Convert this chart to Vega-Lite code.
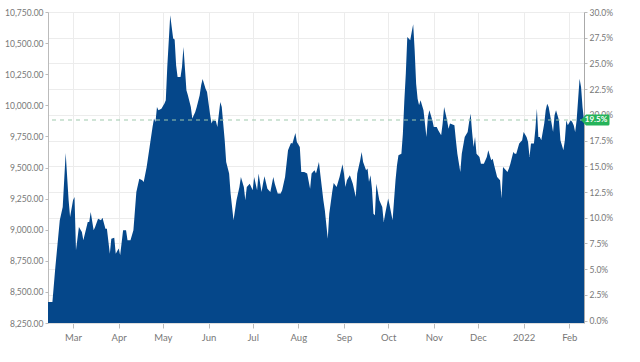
{
  "$schema": "https://vega.github.io/schema/vega-lite/v6.json",
  "width": 536,
  "height": 311,
  "autosize": {"type": "none"},
  "padding": {"left": 48, "top": 12, "right": 56, "bottom": 39},
  "background": "white",
  "config": {
    "view": {"stroke": null},
    "font": "Lato",
    "axis": {"labelFont": "Lato", "labelColor": "#777", "title": null, "gridColor": "#ececec", "gridWidth": 1}
  },
  "layer": [
    {
      "data": {"values": [
        {"d":"2021-02-12","v":8419},{"d":"2021-02-15","v":8419},{"d":"2021-02-17","v":8700},{"d":"2021-02-20","v":9075},
        {"d":"2021-02-22","v":9183},{"d":"2021-02-24","v":9617},{"d":"2021-02-26","v":9236},{"d":"2021-02-27","v":9102},
        {"d":"2021-03-01","v":9236},{"d":"2021-03-02","v":9263},{"d":"2021-03-03","v":8834},{"d":"2021-03-05","v":9022},
        {"d":"2021-03-07","v":8982},{"d":"2021-03-08","v":8915},{"d":"2021-03-11","v":9062},{"d":"2021-03-12","v":9062},
        {"d":"2021-03-13","v":9142},{"d":"2021-03-15","v":8995},{"d":"2021-03-16","v":9022},{"d":"2021-03-18","v":9089},
        {"d":"2021-03-20","v":9075},{"d":"2021-03-21","v":9097},{"d":"2021-03-23","v":9008},{"d":"2021-03-24","v":9008},
        {"d":"2021-03-26","v":8807},{"d":"2021-03-27","v":8928},{"d":"2021-03-29","v":8936},{"d":"2021-03-30","v":8807},
        {"d":"2021-04-01","v":8848},{"d":"2021-04-02","v":8794},{"d":"2021-04-04","v":8995},{"d":"2021-04-06","v":8995},
        {"d":"2021-04-07","v":8915},{"d":"2021-04-09","v":8915},{"d":"2021-04-11","v":8995},{"d":"2021-04-13","v":9303},
        {"d":"2021-04-15","v":9410},{"d":"2021-04-17","v":9397},{"d":"2021-04-18","v":9384},{"d":"2021-04-20","v":9504},
        {"d":"2021-04-22","v":9665},{"d":"2021-04-24","v":9826},{"d":"2021-04-25","v":9893},{"d":"2021-04-26","v":9866},
        {"d":"2021-04-27","v":9987},{"d":"2021-04-28","v":9960},{"d":"2021-04-30","v":9973},{"d":"2021-05-02","v":10013},
        {"d":"2021-05-03","v":10040},{"d":"2021-05-04","v":10308},{"d":"2021-05-06","v":10723},{"d":"2021-05-07","v":10630},
        {"d":"2021-05-08","v":10536},{"d":"2021-05-09","v":10528},{"d":"2021-05-10","v":10322},{"d":"2021-05-11","v":10228},
        {"d":"2021-05-13","v":10228},{"d":"2021-05-14","v":10308},{"d":"2021-05-15","v":10469},{"d":"2021-05-16","v":10295},
        {"d":"2021-05-17","v":10121},{"d":"2021-05-18","v":10080},{"d":"2021-05-20","v":9987},{"d":"2021-05-21","v":9893},
        {"d":"2021-05-23","v":9946},{"d":"2021-05-24","v":9987},{"d":"2021-05-26","v":10080},{"d":"2021-05-27","v":10161},
        {"d":"2021-05-28","v":10212},{"d":"2021-05-30","v":10134},{"d":"2021-05-31","v":10107},{"d":"2021-06-02","v":9933},
        {"d":"2021-06-03","v":9853},{"d":"2021-06-04","v":9879},{"d":"2021-06-06","v":9874},{"d":"2021-06-07","v":9826},
        {"d":"2021-06-09","v":10027},{"d":"2021-06-10","v":9987},{"d":"2021-06-12","v":9719},{"d":"2021-06-13","v":9544},
        {"d":"2021-06-15","v":9451},{"d":"2021-06-16","v":9290},{"d":"2021-06-18","v":9075},{"d":"2021-06-20","v":9236},
        {"d":"2021-06-22","v":9343},{"d":"2021-06-23","v":9424},{"d":"2021-06-25","v":9343},{"d":"2021-06-26","v":9236},
        {"d":"2021-06-27","v":9343},{"d":"2021-06-29","v":9370},{"d":"2021-07-01","v":9317},{"d":"2021-07-02","v":9424},
        {"d":"2021-07-04","v":9317},{"d":"2021-07-05","v":9451},{"d":"2021-07-07","v":9303},{"d":"2021-07-08","v":9370},
        {"d":"2021-07-09","v":9429},{"d":"2021-07-11","v":9330},{"d":"2021-07-13","v":9303},{"d":"2021-07-15","v":9424},
        {"d":"2021-07-16","v":9370},{"d":"2021-07-18","v":9290},{"d":"2021-07-20","v":9290},{"d":"2021-07-21","v":9317},
        {"d":"2021-07-23","v":9424},{"d":"2021-07-25","v":9638},{"d":"2021-07-27","v":9697},{"d":"2021-07-28","v":9692},
        {"d":"2021-07-30","v":9778},{"d":"2021-07-31","v":9705},{"d":"2021-08-02","v":9665},{"d":"2021-08-03","v":9464},
        {"d":"2021-08-05","v":9464},{"d":"2021-08-07","v":9451},{"d":"2021-08-09","v":9330},{"d":"2021-08-10","v":9451},
        {"d":"2021-08-12","v":9477},{"d":"2021-08-13","v":9451},{"d":"2021-08-15","v":9544},{"d":"2021-08-16","v":9437},
        {"d":"2021-08-18","v":9236},{"d":"2021-08-19","v":9156},{"d":"2021-08-21","v":8928},{"d":"2021-08-22","v":9129},
        {"d":"2021-08-24","v":9303},{"d":"2021-08-25","v":9376},{"d":"2021-08-27","v":9343},{"d":"2021-08-29","v":9424},
        {"d":"2021-08-31","v":9526},{"d":"2021-09-01","v":9451},{"d":"2021-09-02","v":9343},{"d":"2021-09-03","v":9397},
        {"d":"2021-09-05","v":9437},{"d":"2021-09-07","v":9370},{"d":"2021-09-09","v":9263},{"d":"2021-09-10","v":9451},
        {"d":"2021-09-12","v":9558},{"d":"2021-09-13","v":9625},{"d":"2021-09-14","v":9544},{"d":"2021-09-16","v":9477},
        {"d":"2021-09-17","v":9491},{"d":"2021-09-18","v":9384},{"d":"2021-09-19","v":9437},{"d":"2021-09-20","v":9330},
        {"d":"2021-09-21","v":9129},{"d":"2021-09-22","v":9116},{"d":"2021-09-23","v":9370},{"d":"2021-09-25","v":9236},
        {"d":"2021-09-27","v":9183},{"d":"2021-09-28","v":9062},{"d":"2021-09-29","v":9129},{"d":"2021-10-01","v":9250},
        {"d":"2021-10-02","v":9196},{"d":"2021-10-04","v":9075},{"d":"2021-10-05","v":9236},{"d":"2021-10-06","v":9397},
        {"d":"2021-10-07","v":9518},{"d":"2021-10-08","v":9598},{"d":"2021-10-10","v":9611},{"d":"2021-10-11","v":9772},
        {"d":"2021-10-12","v":10040},{"d":"2021-10-13","v":10255},{"d":"2021-10-14","v":10549},{"d":"2021-10-16","v":10522},
        {"d":"2021-10-17","v":10589},{"d":"2021-10-18","v":10651},{"d":"2021-10-19","v":10442},{"d":"2021-10-20","v":10174},
        {"d":"2021-10-21","v":10053},{"d":"2021-10-22","v":10000},{"d":"2021-10-23","v":10040},{"d":"2021-10-24","v":10000},
        {"d":"2021-10-25","v":9960},{"d":"2021-10-27","v":9745},{"d":"2021-10-28","v":9906},{"d":"2021-10-29","v":9960},
        {"d":"2021-10-31","v":9879},{"d":"2021-11-01","v":9826},{"d":"2021-11-03","v":9826},{"d":"2021-11-04","v":9799},
        {"d":"2021-11-06","v":9759},{"d":"2021-11-07","v":9853},{"d":"2021-11-08","v":9987},{"d":"2021-11-10","v":9879},
        {"d":"2021-11-11","v":9812},{"d":"2021-11-12","v":9853},{"d":"2021-11-15","v":9839},{"d":"2021-11-16","v":9719},
        {"d":"2021-11-17","v":9611},{"d":"2021-11-19","v":9464},{"d":"2021-11-20","v":9611},{"d":"2021-11-22","v":9745},
        {"d":"2021-11-24","v":9786},{"d":"2021-11-25","v":9866},{"d":"2021-11-26","v":9933},{"d":"2021-11-27","v":9786},
        {"d":"2021-11-28","v":9665},{"d":"2021-11-29","v":9745},{"d":"2021-11-30","v":9611},{"d":"2021-12-02","v":9585},
        {"d":"2021-12-03","v":9531},{"d":"2021-12-05","v":9531},{"d":"2021-12-07","v":9585},{"d":"2021-12-08","v":9638},
        {"d":"2021-12-10","v":9558},{"d":"2021-12-11","v":9571},{"d":"2021-12-12","v":9518},{"d":"2021-12-14","v":9424},
        {"d":"2021-12-16","v":9397},{"d":"2021-12-17","v":9250},{"d":"2021-12-18","v":9504},{"d":"2021-12-20","v":9477},
        {"d":"2021-12-21","v":9464},{"d":"2021-12-22","v":9491},{"d":"2021-12-23","v":9531},{"d":"2021-12-25","v":9625},
        {"d":"2021-12-26","v":9611},{"d":"2021-12-27","v":9611},{"d":"2021-12-29","v":9692},{"d":"2021-12-31","v":9719},
        {"d":"2022-01-01","v":9786},{"d":"2022-01-03","v":9745},{"d":"2022-01-04","v":9705},{"d":"2022-01-05","v":9585},
        {"d":"2022-01-06","v":9692},{"d":"2022-01-08","v":9692},{"d":"2022-01-09","v":9812},{"d":"2022-01-10","v":9973},
        {"d":"2022-01-11","v":9745},{"d":"2022-01-12","v":9745},{"d":"2022-01-13","v":9719},{"d":"2022-01-15","v":9853},
        {"d":"2022-01-16","v":9960},{"d":"2022-01-17","v":10013},{"d":"2022-01-18","v":9987},{"d":"2022-01-20","v":9853},
        {"d":"2022-01-21","v":9786},{"d":"2022-01-22","v":9920},{"d":"2022-01-23","v":9960},{"d":"2022-01-25","v":9879},
        {"d":"2022-01-26","v":9719},{"d":"2022-01-28","v":9638},{"d":"2022-01-29","v":9719},{"d":"2022-01-30","v":9879},
        {"d":"2022-01-31","v":9839},{"d":"2022-02-02","v":9879},{"d":"2022-02-03","v":9866},{"d":"2022-02-04","v":9839},
        {"d":"2022-02-05","v":9786},{"d":"2022-02-06","v":9879},{"d":"2022-02-08","v":10214},{"d":"2022-02-09","v":10147},
        {"d":"2022-02-10","v":9987},{"d":"2022-02-11","v":9882}
      ]},
      "mark": {"type": "area", "color": "#05478a", "interpolate": "linear", "clip": true},
      "encoding": {
        "x": {
          "field": "d", "type": "temporal",
          "scale": {"nice": false},
          "axis": {
            "tickCount": {"interval": "month", "step": 1},
            "labelExpr": "month(datum.value) == 0 ? timeFormat(datum.value, '%Y') : timeFormat(datum.value, '%b')",
            "grid": true, "gridColor": "#ececec",
            "domainColor": "#dddddd", "tickColor": "#bbbbbb", "tickSize": 5,
            "labelFontSize": 9.5, "labelPadding": 4, "labelColor": "#777"
          }
        },
        "y": {
          "field": "v", "type": "quantitative",
          "scale": {"domain": [8250, 10750], "nice": false, "zero": false},
          "axis": {
            "orient": "left", "format": ",.2f",
            "values": [8250, 8500, 8750, 9000, 9250, 9500, 9750, 10000, 10250, 10500, 10750],
            "grid": false, "domainColor": "#bbbbbb", "tickColor": "#bbbbbb", "tickSize": 3,
            "labelFontSize": 8.5, "labelPadding": 2, "labelColor": "#777"
          }
        },
        "y2": {"datum": 8250}
      }
    },
    {
      "data": {"values": [{"d": "2022-02-11", "pct": 0.195, "label": "19.5%"}]},
      "encoding": {
        "y": {
          "field": "pct", "type": "quantitative",
          "scale": {"domain": [-0.00232, 0.3], "nice": false, "zero": false},
          "axis": {
            "orient": "right", "format": ".1%",
            "values": [0, 0.025, 0.05, 0.075, 0.1, 0.125, 0.15, 0.175, 0.2, 0.225, 0.25, 0.275, 0.3],
            "grid": true, "gridColor": "#ececec",
            "domainColor": "#aaaaaa", "tickColor": "#bbbbbb", "tickSize": 3,
            "labelFontSize": 8.5, "labelPadding": 2, "labelColor": "#777"
          }
        }
      },
      "layer": [
        {"mark": {"type": "rule", "color": "#9fc9ad", "strokeDash": [4, 4], "strokeWidth": 1}},
        {
          "mark": {"type": "point", "shape": "M-3,0L2,-5.5L24,-5.5Q25.5,-5.5 25.5,-4L25.5,4Q25.5,5.5 24,5.5L2,5.5Z", "filled": true, "color": "#25b35a", "opacity": 1, "size": 4, "strokeWidth": 0, "clip": false},
          "encoding": {"x": {"field": "d", "type": "temporal"}}
        },
        {
          "mark": {"type": "text", "color": "white", "fontWeight": "bold", "fontSize": 8, "align": "center", "baseline": "middle", "dx": 12, "font": "Lato"},
          "encoding": {"x": {"field": "d", "type": "temporal"}, "text": {"field": "label"}}
        }
      ]
    }
  ],
  "resolve": {"scale": {"y": "independent"}}
}
